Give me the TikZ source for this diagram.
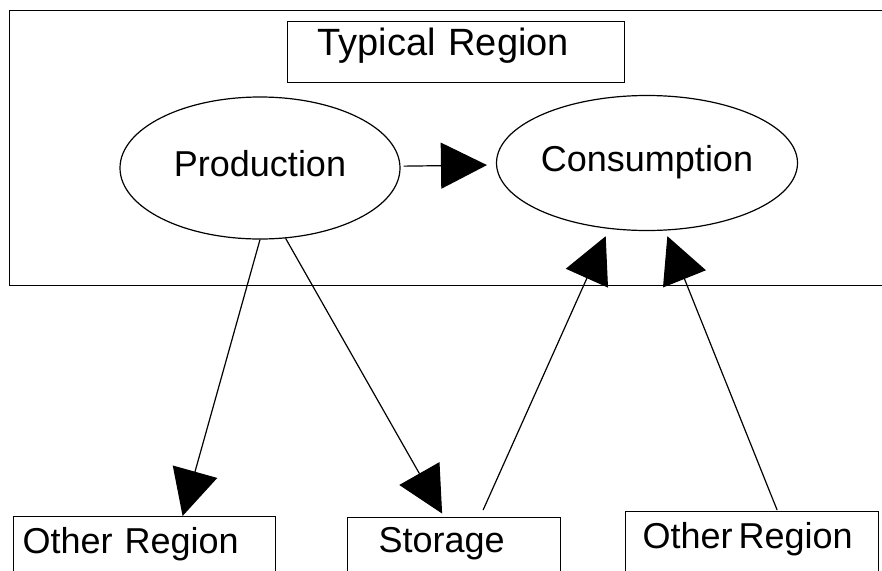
\documentclass[tikz,border=0pt]{standalone}
\usepackage{fontspec}
\setmainfont{Liberation Sans}
\usetikzlibrary{shapes.geometric,arrows.meta}

\begin{document}
\begin{tikzpicture}[
    x=1pt,y=-1pt,
    line width=1.2pt,
    font=\fontsize{36}{40}\selectfont,
    place/.style={draw,ellipse,inner sep=0pt,text height=25pt,text depth=8pt},
    tagbox/.style={draw,anchor=north west,align=left,inner ysep=4pt,text depth=60pt},
    flow/.style={-{Triangle[length=46pt,width=46pt]}}
    ]
    \useasboundingbox (0,0) rectangle (882,570);
    \clip (0,0) rectangle (882,570);
    % region frame, runs off the right edge
    \node[draw,anchor=north west,minimum width=900pt,minimum height=275pt] (region) at (9,10) {};
    \node[tagbox,inner xsep=30pt,text width=277pt,text height=30pt,text depth=23pt,font=\fontsize{38}{40}\selectfont] (typical) at (287,21) {Typical Region};
    \node[place,minimum width=280pt,minimum height=142pt] (prod) at (260,168) {Production};
    \node[place,minimum width=301pt,minimum height=135pt] (cons) at (647,163) {Consumption};
    % outside the region
    \node[tagbox,inner xsep=9pt,text width=244pt,text height=33pt] (other1) at (13,516) {Other Region};
    \node[tagbox,inner xsep=31pt,text width=151pt,text height=31pt] (stor) at (347,517) {Storage};
    \node[tagbox,inner xsep=17pt,text width=219pt,text height=33pt] (other2) at (625,511) {Other\,Region};
    \draw[flow,shorten <=3pt,shorten >=9pt] (prod) -- (cons);
    \draw[flow] (prod.south) -- ([xshift=38pt]other1.north);
    \draw[flow,shorten >=4pt] (prod.-70) -- ([xshift=-10pt]stor.north);
    \draw[flow,shorten >=8pt] ([xshift=29pt,yshift=7pt]stor.north) -- (cons.-120);
    \draw[flow,shorten >=6pt] ([xshift=25pt,yshift=1pt]other2.north) -- (cons.-75);
\end{tikzpicture}
\end{document}
